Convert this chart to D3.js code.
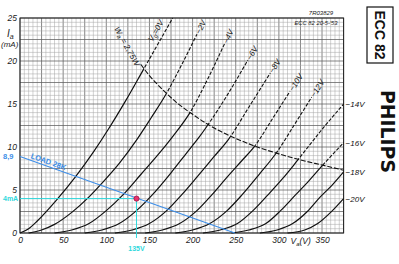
<!DOCTYPE html>
<html>
<head>
<meta charset="utf-8">
<script src="https://cdn.jsdelivr.net/npm/d3@7"></script>
<style>
  html, body { margin: 0; padding: 0; background: #fff; }
  svg { display: block; font-family: "Liberation Sans", Arial, sans-serif; }
</style>
</head>
<body>
<div id="chart"></div>
<script>
// ECC82 anode characteristics (Philips sheet 20-5-'53)
const width = 399;
const height = 264;

const vaTicks = [0, 50, 100, 150, 200, 250, 300, 350];
const iaTicks = [0, 5, 10, 15, 20, 25];

// grid voltage curves, [Va (V), Ia (mA)]
const vg0   = [[0,0],[10,0.5],[20,1.4],[42,3.8],[64,6.5],[85,9.4],[102,12],[122,15.3],[143,19],[160,22],[177,25]];
const vgM2  = [[10,0],[25,0.35],[40,1.0],[60,2.4],[80,4.2],[95,5.8],[115,8.1],[135,10.8],[152,13.4],[169,16.1],[187,19.5],[205,23.1]];
const vgM4  = [[40,0],[60,0.35],[80,1.1],[100,2.6],[119,4.4],[140,6.8],[160,9.1],[176,11.1],[197,14.0],[217,17.8],[237,22]];
const vgM6  = [[75,0],[95,0.35],[115,1.1],[135,2.6],[153,4.4],[175,7.0],[193,9.3],[208,11.2],[222,13.2],[243,16.5],[264,20.1]];
const vgM8  = [[110,0],[130,0.35],[150,1.1],[170,2.6],[187,4.4],[205,6.5],[225,8.9],[241,10.8],[265,14.6],[290,18.6]];
const vgM10 = [[145,0],[165,0.35],[185,1.1],[205,2.6],[222,4.4],[240,6.5],[257,8.4],[272,10.1],[292,13.2],[313,16.5]];
const vgM12 = [[180,0],[200,0.35],[220,1.1],[240,2.6],[257,4.4],[277,6.8],[297,9.3],[318,12.6],[338,15.8]];
const vgM14 = [[212,0],[232,0.35],[252,1.1],[270,2.6],[287,4.4],[305,6.4],[322,8.5],[348,11.8],[375,15.0]];
const vgM16 = [[245,0],[265,0.35],[285,1.1],[302,2.6],[319,4.4],[335,6.1],[350,7.8],[375,10.5]];
const vgM18 = [[278,0],[298,0.35],[316,1.1],[333,2.5],[348,4.2],[362,5.6],[375,7.1]];
const vgM20 = [[310,0],[330,0.35],[345,1.1],[360,2.4],[375,4.0]];

const topLabels = ["−2V", "−4V", "−6V", "−8V", "−10V", "−12V"];
const edgeLabels = ["−14V", "−16V", "−18V", "−20V"];

// Wa = 2,75 W limit
const dissipation = [[110,25],[120,22.9],[130,21.2],[140,19.6],[150,18.3],[165,16.7],[180,15.3],[200,13.8],[225,12.2],[250,11.0],[275,10.0],[300,9.2],[325,8.5],[350,7.9],[375,7.3]];

// 28k load line and working point
const loadLine = [[0,8.9],[249,0]];
const opPoint = [135, 4];

const x = d3.scaleLinear().domain([0, 375]).range([20, 343.6]);
const y = d3.scaleLinear().domain([0, 25]).range([233, 18]);

const svg = d3.select("#chart").append("svg")
  .attr("width", width)
  .attr("height", height)
  .attr("viewBox", `0 0 ${width} ${height}`);

svg.append("rect").attr("width", width).attr("height", height).attr("fill", "#fff");

// --------------------
// grid
// --------------------
const grid = svg.append("g");
for (let k = 0; k <= 75; k++) {
  const v = k * 5;
  grid.append("line")
    .attr("x1", x(v)).attr("x2", x(v))
    .attr("y1", y(0)).attr("y2", y(25))
    .attr("stroke", k % 5 === 0 ? "#5e5e5e" : "#a4a4a4")
    .attr("stroke-width", k % 5 === 0 ? 0.75 : 0.5);
}
for (let k = 0; k <= 50; k++) {
  const v = k * 0.5;
  grid.append("line")
    .attr("x1", x(0)).attr("x2", x(375))
    .attr("y1", y(v)).attr("y2", y(v))
    .attr("stroke", k % 5 === 0 ? "#5e5e5e" : "#a4a4a4")
    .attr("stroke-width", k % 5 === 0 ? 0.75 : 0.5);
}
svg.append("rect")
  .attr("x", x(0)).attr("y", y(25))
  .attr("width", x(375) - x(0)).attr("height", y(0) - y(25))
  .attr("fill", "none").attr("stroke", "#222").attr("stroke-width", 1);

// --------------------
// axes
// --------------------
const gx = svg.append("g").attr("transform", `translate(0,${y(0)})`)
  .call(d3.axisBottom(x).tickValues(vaTicks).tickSize(0).tickPadding(4));
const gy = svg.append("g").attr("transform", `translate(${x(0)},0)`)
  .call(d3.axisLeft(y).tickValues(iaTicks).tickSize(0).tickPadding(3));
[gx, gy].forEach(g => {
  g.select(".domain").remove();
  g.selectAll("text")
    .attr("font-family", "Liberation Sans, Arial, sans-serif")
    .attr("font-style", "italic")
    .attr("font-size", 8.5)
    .attr("fill", "#222");
});
gy.selectAll("text").attr("dy", "0.35em");

// axis titles
const yt = svg.append("text").attr("x", 7).attr("y", 37)
  .attr("font-style", "italic").attr("font-size", 10).attr("fill", "#222");
yt.append("tspan").text("I");
yt.append("tspan").attr("font-size", 7).attr("dy", 2).text("a");
svg.append("text").attr("x", 1).attr("y", 47)
  .attr("font-style", "italic").attr("font-size", 8).attr("fill", "#222").text("(mA)");

const xt = svg.append("text").attr("x", 290.5).attr("y", 243.5)
  .attr("font-style", "italic").attr("font-size", 8.5).attr("fill", "#222");
xt.append("tspan").text("V");
xt.append("tspan").attr("font-size", 6).attr("dy", 2).text("a");
xt.append("tspan").attr("dy", -2).text("(V)");

// --------------------
// curves (solid under the dissipation limit, dashed above)
// --------------------
const line = d3.line().x(d => x(d[0])).y(d => y(d[1])).curve(d3.curveMonotoneX);
const hyp = line(dissipation);
const last = dissipation[dissipation.length - 1];

const defs = svg.append("defs");
defs.append("clipPath").attr("id", "above").append("path")
  .attr("d", hyp + `L${x(375) + 6},${y(last[1])}L${x(375) + 6},${y(25) - 8}L${x(110)},${y(25) - 8}Z`);
defs.append("clipPath").attr("id", "below").append("path")
  .attr("d", `M${x(0) - 6},${y(0) + 6}L${x(0) - 6},${y(25) - 8}L${x(110)},${y(25) - 8}` +
    hyp.replace(/^M/, "L") + `L${x(375) + 6},${y(last[1])}L${x(375) + 6},${y(0) + 6}Z`);

const curves = [vg0, vgM2, vgM4, vgM6, vgM8, vgM10, vgM12, vgM14, vgM16, vgM18, vgM20];
const plot = svg.append("g");

curves.forEach(pts => {
  plot.append("path").datum(pts)
    .attr("d", line)
    .attr("clip-path", "url(#below)")
    .attr("fill", "none").attr("stroke", "#111").attr("stroke-width", 1.2);
  plot.append("path").datum(pts)
    .attr("d", line)
    .attr("clip-path", "url(#above)")
    .attr("fill", "none").attr("stroke", "#111").attr("stroke-width", 1.1)
    .attr("stroke-dasharray", "3.5,1.6");
});

// dissipation line (the label covers its first part)
plot.append("path").datum(dissipation.filter(d => d[0] >= 140))
  .attr("d", line)
  .attr("fill", "none").attr("stroke", "#111").attr("stroke-width", 1.1)
  .attr("stroke-dasharray", "5,1.8");

function angleOf(a, b) {
  return Math.atan2(y(b[1]) - y(a[1]), x(b[0]) - x(a[0])) * 180 / Math.PI;
}

// labels at the top ends
[vgM2, vgM4, vgM6, vgM8, vgM10, vgM12].forEach((pts, i) => {
  const p = pts[pts.length - 1];
  const q = pts[pts.length - 2];
  svg.append("text")
    .attr("transform", `translate(${x(p[0])},${y(p[1])}) rotate(${angleOf(q, p)})`)
    .attr("dx", 1).attr("dy", 3)
    .attr("font-style", "italic").attr("font-size", 8).attr("fill", "#111")
    .text(topLabels[i]);
});

// labels at the right edge
[vgM14, vgM16, vgM18, vgM20].forEach((pts, i) => {
  const p = pts[pts.length - 1];
  svg.append("text")
    .attr("x", x(p[0]) + 2).attr("y", y(p[1]) + 3)
    .attr("font-style", "italic").attr("font-size", 8).attr("fill", "#111")
    .text(edgeLabels[i]);
});

// Vg = 0V label, beside the top of its line
{
  const p = vg0[vg0.length - 1];
  const q = vg0[vg0.length - 2];
  const t = svg.append("text")
    .attr("transform", `translate(${x(q[0]) - 3},${y(q[1])}) rotate(${angleOf(q, p)})`)
    .attr("dy", -3)
    .attr("font-style", "italic").attr("font-size", 8).attr("fill", "#111");
  t.append("tspan").text("V");
  t.append("tspan").attr("font-size", 6).attr("dy", 1.5).text("g");
  t.append("tspan").attr("dy", -1.5).text("=0V");
}

// Wa = 2,75W label along the limit line
{
  const a = dissipation[0];
  const b = dissipation[3];
  const t = svg.append("text")
    .attr("transform", `translate(${x(b[0])},${y(b[1])}) rotate(${angleOf(a, b)})`)
    .attr("text-anchor", "end").attr("dx", -1).attr("dy", 6)
    .attr("font-style", "italic").attr("font-size", 8).attr("fill", "#111");
  t.append("tspan").text("W");
  t.append("tspan").attr("font-size", 6).attr("dy", 1.5).text("a");
  t.append("tspan").attr("dy", -1.5).text(" = 2,75W");
}

// --------------------
// load line + working point
// --------------------
const blue = "#3d8ee8";
const cyan = "#2fd8dc";
plot.append("path").datum(loadLine)
  .attr("d", d3.line().x(d => x(d[0])).y(d => y(d[1])))
  .attr("stroke", blue).attr("stroke-width", 1.1).attr("fill", "none");

plot.append("line")
  .attr("x1", x(0)).attr("x2", x(opPoint[0]))
  .attr("y1", y(opPoint[1])).attr("y2", y(opPoint[1]))
  .attr("stroke", cyan).attr("stroke-width", 1);
plot.append("line")
  .attr("x1", x(opPoint[0])).attr("x2", x(opPoint[0]))
  .attr("y1", y(opPoint[1])).attr("y2", y(0) + 5)
  .attr("stroke", cyan).attr("stroke-width", 1);
plot.append("circle")
  .attr("cx", x(opPoint[0])).attr("cy", y(opPoint[1])).attr("r", 2.6)
  .attr("fill", "#e8336e").attr("stroke", "#9a1440").attr("stroke-width", 0.8);

const loadAngle = angleOf(loadLine[0], loadLine[1]);
const lp = [11, loadLine[0][1] * (1 - 11 / loadLine[1][0])];
svg.append("text")
  .attr("transform", `translate(${x(lp[0])},${y(lp[1])}) rotate(${loadAngle})`)
  .attr("dy", -2)
  .attr("font-weight", "bold").attr("font-size", 7.5).attr("fill", blue)
  .text("LOAD 28K");
svg.append("text")
  .attr("x", 3).attr("y", y(loadLine[0][1]) + 2.5)
  .attr("font-weight", "bold").attr("font-size", 7.5).attr("fill", blue)
  .text("8,9");
svg.append("text")
  .attr("x", 3).attr("y", y(opPoint[1]) + 2.5)
  .attr("font-weight", "bold").attr("font-size", 7).attr("fill", cyan)
  .text("4mA");
svg.append("text")
  .attr("x", x(opPoint[0])).attr("y", 251)
  .attr("text-anchor", "middle")
  .attr("font-weight", "bold").attr("font-size", 7).attr("fill", cyan)
  .text("135V");

// --------------------
// sheet marks
// --------------------
svg.append("text").attr("x", 321).attr("y", 15).attr("text-anchor", "middle")
  .attr("font-style", "italic").attr("font-size", 6).attr("fill", "#222").text("7R03829");
svg.append("text").attr("x", 316).attr("y", 24.5).attr("text-anchor", "middle")
  .attr("font-style", "italic").attr("font-size", 5.8).attr("fill", "#222").text("ECC 82  20-5-'53");

svg.append("rect").attr("x", 367).attr("y", 7).attr("width", 26).attr("height", 56)
  .attr("fill", "#fff").attr("stroke", "#111").attr("stroke-width", 1.2);
svg.append("text")
  .attr("transform", "translate(380,35) rotate(90)")
  .attr("text-anchor", "middle").attr("dy", "0.35em")
  .attr("font-weight", "bold").attr("font-size", 14).attr("fill", "#111")
  .text("ECC 82");
svg.append("text")
  .attr("transform", "translate(388,131.5) rotate(90)")
  .attr("text-anchor", "middle").attr("dy", "0.35em")
  .attr("font-family", "DejaVu Sans, sans-serif")
  .attr("font-weight", 900).attr("font-size", 19)
  .attr("textLength", 83).attr("lengthAdjust", "spacingAndGlyphs")
  .attr("fill", "#111")
  .text("PHILIPS");
</script>
</body>
</html>
